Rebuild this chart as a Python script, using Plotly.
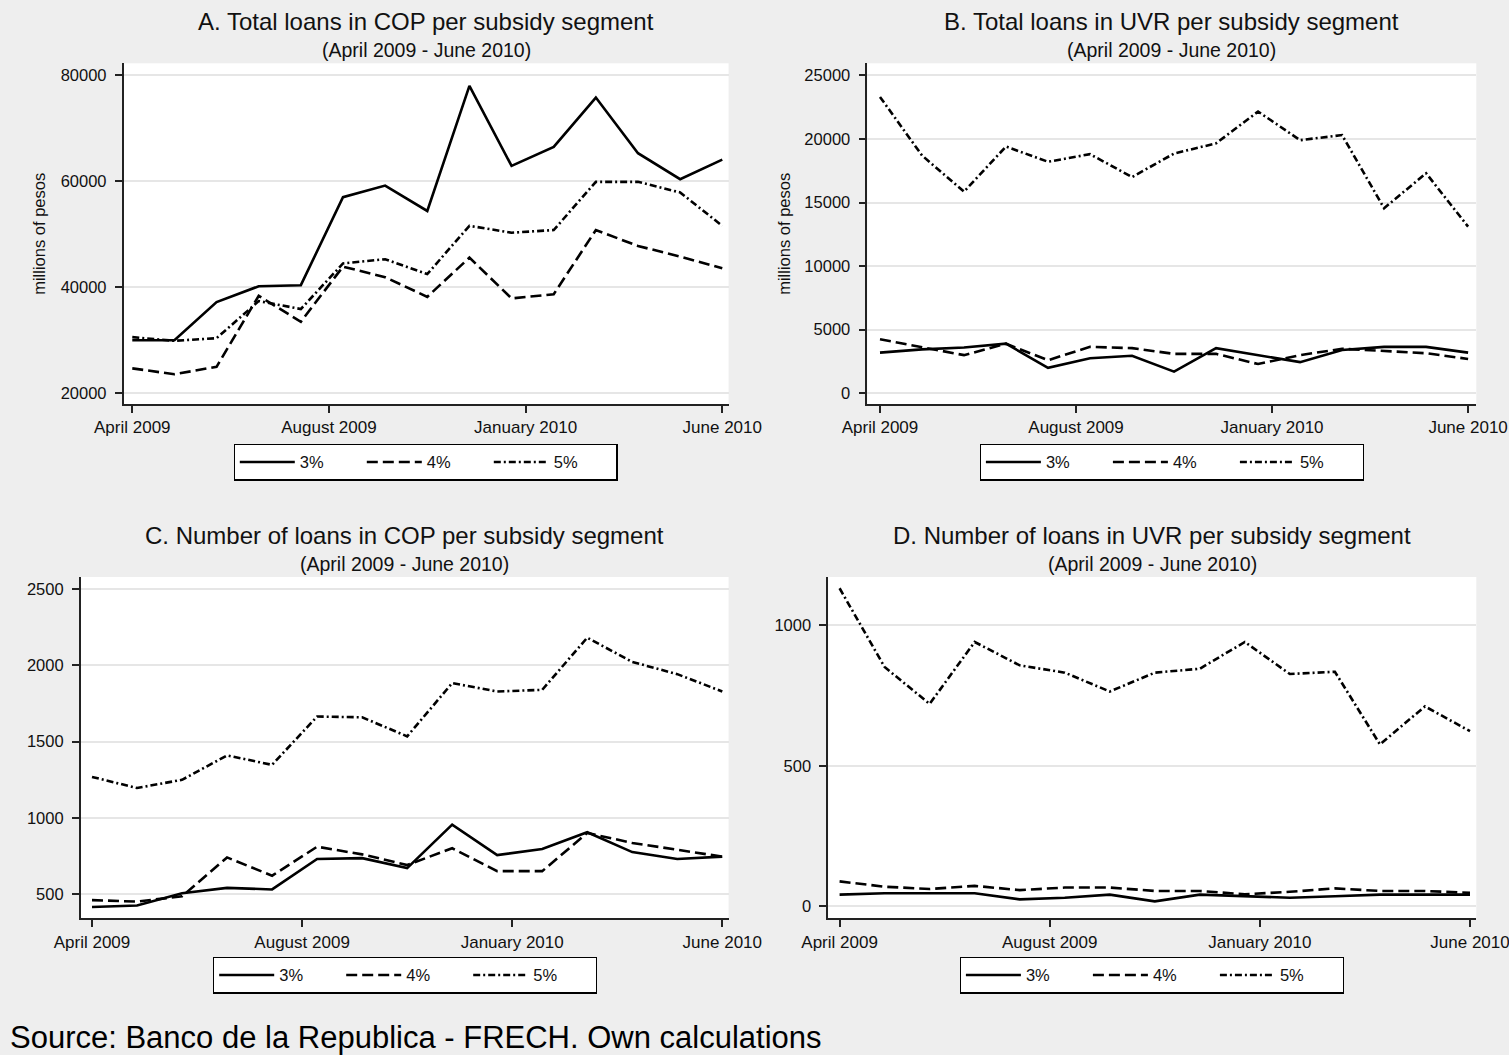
import plotly.graph_objects as go

# ---------------- data ----------------
months = ["2009-04", "2009-05", "2009-06", "2009-07", "2009-08", "2009-09", "2009-10",
          "2009-11", "2009-12", "2010-01", "2010-02", "2010-03", "2010-04", "2010-05", "2010-06"]
tick_labels = ["April 2009", "August 2009", "January 2010", "June 2010"]
segments = ["3%", "4%", "5%"]

# A. Total loans in COP (millions of pesos)
cop_total_3 = [30000, 30000, 37200, 40200, 40400, 57000, 59200, 54400, 78000, 62900, 66500, 75800, 65300, 60400, 64100]
cop_total_4 = [24700, 23600, 25000, 38400, 33500, 43900, 41900, 38200, 45600, 37900, 38700, 50800, 47800, 45800, 43600]
cop_total_5 = [30600, 29900, 30400, 37400, 35900, 44500, 45300, 42500, 51600, 50300, 50800, 59900, 59900, 57900, 51600]

# B. Total loans in UVR (millions of pesos)
uvr_total_3 = [3200, 3450, 3600, 3900, 2000, 2750, 2950, 1700, 3550, 3000, 2450, 3400, 3650, 3650, 3200]
uvr_total_4 = [4250, 3650, 3000, 3900, 2600, 3650, 3550, 3100, 3100, 2300, 3000, 3500, 3300, 3150, 2700]
uvr_total_5 = [23300, 18700, 15850, 19400, 18200, 18800, 17000, 18850, 19650, 22150, 19900, 20300, 14550, 17300, 13100]

# C. Number of loans in COP
cop_num_3 = [415, 425, 505, 540, 530, 730, 735, 670, 955, 755, 795, 905, 775, 730, 745]
cop_num_4 = [460, 450, 485, 740, 620, 810, 760, 690, 800, 650, 650, 900, 835, 790, 745]
cop_num_5 = [1268, 1195, 1249, 1409, 1347, 1664, 1659, 1534, 1883, 1828, 1839, 2181, 2022, 1942, 1828]

# D. Number of loans in UVR
uvr_num_3 = [42, 47, 47, 47, 25, 31, 42, 18, 42, 37, 31, 36, 42, 42, 42]
uvr_num_4 = [89, 70, 62, 73, 58, 67, 67, 55, 55, 43, 52, 64, 55, 55, 48]
uvr_num_5 = [1131, 851, 720, 940, 857, 831, 764, 831, 845, 940, 826, 834, 576, 711, 623]

titles = ["A. Total loans in COP per subsidy segment",
          "B. Total loans in UVR per subsidy segment",
          "C. Number of loans in COP per subsidy segment",
          "D. Number of loans in UVR per subsidy segment"]
subtitle = "(April 2009 - June 2010)"
y_title = "millions of pesos"
source = "Source: Banco de la Republica - FRECH. Own calculations"

a_ticks = [20000, 40000, 60000, 80000]
b_ticks = [0, 5000, 10000, 15000, 20000, 25000]
c_ticks = [500, 1000, 1500, 2000, 2500]
d_ticks = [0, 500, 1000]

# ---------------- figure ----------------
W, H = 1509, 1055
FONT = "Liberation Sans, Arial, Helvetica, sans-serif"
x_idx = list(range(len(months)))
n = len(months) - 1
xtickvals = [0, n / 3, 2 * n / 3, n]

dashes = ["solid", "11px,5px", "7px,3px,2px,3px"]

panels = [
    dict(series=[cop_total_3, cop_total_4, cop_total_5], ticks=a_ticks,
         px=(123.6, 728.6), py=(63.3, 404.3), xr=[-0.206, 14.15], yr=[17925, 82264],
         legend="legend", lg=(425.6, 462), ytitle_x=39, title_y=(22, 50)),
    dict(series=[uvr_total_3, uvr_total_4, uvr_total_5], ticks=b_ticks,
         px=(867.3, 1476.3), py=(63.3, 404.3), xr=[-0.302, 14.195], yr=[-865, 25943],
         legend="legend2", lg=(1171.7, 462), ytitle_x=784, title_y=(22, 50)),
    dict(series=[cop_num_3, cop_num_4, cop_num_5], ticks=c_ticks,
         px=(80.7, 728.6), py=(577, 918.4), xr=[-0.251, 14.14], yr=[340, 2579],
         legend="legend3", lg=(405, 975), ytitle_x=None, title_y=(535, 564)),
    dict(series=[uvr_num_3, uvr_num_4, uvr_num_5], ticks=d_ticks,
         px=(828.2, 1476.3), py=(577, 918.4), xr=[-0.253, 14.14], yr=[-42.6, 1171],
         legend="legend4", lg=(1151.7, 975), ytitle_x=None, title_y=(535, 564)),
]

fig = go.Figure()
annotations = []
layout = dict(
    width=W, height=H,
    margin=dict(l=0, r=0, t=0, b=0, pad=0, autoexpand=False),
    paper_bgcolor="#eeeeee",
    plot_bgcolor="#ffffff",
    font=dict(family=FONT, color="#111111"),
    showlegend=True,
)

for i, p in enumerate(panels):
    k = "" if i == 0 else str(i + 1)
    xa, ya = "x" + k, "y" + k
    for s, (vals, name) in enumerate(zip(p["series"], segments)):
        fig.add_trace(go.Scatter(
            x=x_idx, y=vals, name=name, mode="lines",
            line=dict(color="#000000", width=2.6, dash=dashes[s]),
            xaxis=xa, yaxis=ya, legend=p["legend"], hoverinfo="skip"))
    layout["xaxis" + k] = dict(
        domain=[p["px"][0] / W, p["px"][1] / W], anchor=ya, range=p["xr"],
        tickvals=xtickvals, ticktext=tick_labels, ticks="outside", ticklen=7,
        tickwidth=1.5, tickcolor="#222222", showline=True, linecolor="#222222",
        linewidth=1.5, showgrid=False, zeroline=False, automargin=False,
        ticklabeloverflow="allow",
        tickfont=dict(size=17, family=FONT, color="#111111"))
    layout["yaxis" + k] = dict(
        domain=[1 - p["py"][1] / H, 1 - p["py"][0] / H], anchor=xa, range=p["yr"],
        tickvals=p["ticks"], tickformat="d", ticks="outside", ticklen=7, tickwidth=1.5,
        tickcolor="#222222", showline=True, linecolor="#222222", linewidth=1.5,
        showgrid=True, gridcolor="#e6e6e6", gridwidth=1.5, zeroline=False, automargin=False,
        ticklabelstandoff=5,
        tickfont=dict(size=16.5, family=FONT, color="#111111"))
    layout[p["legend"]] = dict(
        orientation="h", x=p["lg"][0] / W, y=1 - p["lg"][1] / H,
        xanchor="center", yanchor="middle", bgcolor="#ffffff",
        bordercolor="#000000", borderwidth=1.2,
        font=dict(size=16.5, family=FONT, color="#111111"),
        itemwidth=55, entrywidth=57, entrywidthmode="pixels")
    cx = (p["px"][0] + p["px"][1]) / 2 / W
    annotations.append(dict(text=titles[i], x=cx, y=1 - p["title_y"][0] / H,
                            xref="paper", yref="paper", xanchor="center", yanchor="middle",
                            showarrow=False, font=dict(size=24, family=FONT, color="#111111")))
    annotations.append(dict(text=subtitle, x=cx, y=1 - p["title_y"][1] / H,
                            xref="paper", yref="paper", xanchor="center", yanchor="middle",
                            showarrow=False, font=dict(size=19.5, family=FONT, color="#111111")))
    if p["ytitle_x"] is not None:
        annotations.append(dict(text=y_title, x=p["ytitle_x"] / W,
                                y=1 - (p["py"][0] + p["py"][1]) / 2 / H,
                                xref="paper", yref="paper", xanchor="center", yanchor="middle",
                                textangle=-90, showarrow=False,
                                font=dict(size=16.5, family=FONT, color="#111111")))

annotations.append(dict(text=source, x=8 / W, y=1 - 1037 / H, xref="paper", yref="paper",
                        xanchor="left", yanchor="middle", showarrow=False,
                        font=dict(size=31, family=FONT, color="#000000")))
layout["annotations"] = annotations
fig.update_layout(**layout)

fig.write_html("out.html", config={"displayModeBar": False},
               post_script="document.body.style.margin='0';document.body.style.overflow='hidden';")
